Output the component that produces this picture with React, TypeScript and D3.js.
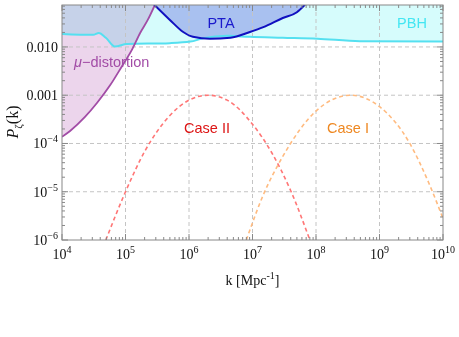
import React from 'react';
import * as d3 from 'd3';

// (k in Mpc^-1, P dimensionless)
const caseIIk = [4.9e4, 1e5, 2e5, 5e5, 1e6, 2e6, 4e6, 1e7, 2e7, 4e7, 8e7];
const caseIIP = [1e-6, 1e-5, 6.8e-5, 3.8e-4, 7.9e-4, 1e-3, 7.9e-4, 2.5e-4, 6.5e-5, 1.05e-5, 1e-6];

const caseIk = [8e6, 1.5e7, 3e7, 1e8, 3.5e8, 1e9, 3e9, 6e9, 1e10];
const caseIP = [1e-6, 9e-6, 5.4e-5, 4.7e-4, 1e-3, 5.8e-4, 1e-4, 1.5e-5, 2.8e-6];

const pbhK = [1e4, 3.1e4, 3.8e4, 4.9e4, 6.8e4, 1.05e5, 5e5, 1.05e6, 1.66e6, 4e6, 9e6, 3e7, 1.05e8, 4.9e8, 1e10];
const pbhP = [0.0186, 0.0178, 0.0195, 0.0155, 0.0102, 0.0115, 0.012, 0.0129, 0.0151, 0.017, 0.0162, 0.0155, 0.0148, 0.0132, 0.0129];

const muK = [1e4, 1.34e4, 2.3e4, 3.55e4, 5.75e4, 8.7e4, 1.26e5, 1.7e5, 2.24e5, 2.9e5];
const muP = [1.38e-4, 1.82e-4, 3.55e-4, 6.9e-4, 1.62e-3, 3.9e-3, 8.7e-3, 0.0195, 0.0363, 0.074];

const ptaK = [2.7e5, 5e5, 8.1e5, 1.15e6, 2.14e6, 4.5e6, 9.1e6, 1.48e7, 3e7, 5e7, 7e7];
const ptaP = [0.08, 0.0363, 0.0204, 0.0162, 0.0148, 0.0155, 0.0204, 0.0257, 0.0398, 0.0525, 0.08];

const xTicks = [1e4, 1e5, 1e6, 1e7, 1e8, 1e9, 1e10];
const xTickExp = ['4', '5', '6', '7', '8', '9', '10'];
const yTicks = [1e-6, 1e-5, 1e-4, 1e-3, 1e-2];
const yTickText = [['10', '−6'], ['10', '−5'], ['10', '−4'], ['0.001', ''], ['0.010', '']];

const W = 459;
const H = 337;
const L = 62, R = 443, T = 5, B = 240;

const App = () => {
  const x = d3.scaleLog().domain([1e4, 1e10]).range([L, R]);
  const y = d3.scaleLog().domain([1e-6, 0.074]).range([B, T]);

  const pts = (ks: number[], ps: number[]) => ks.map((k, i) => [k, ps[i]] as [number, number]);

  const line = d3.line<[number, number]>()
    .x(d => x(d[0]))
    .y(d => y(d[1]))
    .curve(d3.curveMonotoneX);

  const areaTop = d3.area<[number, number]>()
    .x(d => x(d[0]))
    .y0(T - 20)
    .y1(d => y(d[1]))
    .curve(d3.curveMonotoneX);

  const pbh = pts(pbhK, pbhP);
  const mu = pts(muK, muP);
  const pta = pts(ptaK, ptaP);

  // minor ticks on log axes
  const minorX: number[] = [];
  for (let e = 4; e < 10; e++) for (let m = 2; m < 10; m++) minorX.push(m * Math.pow(10, e));
  const minorY: number[] = [];
  for (let e = -6; e < -1; e++) for (let m = 2; m < 10; m++) {
    const v = m * Math.pow(10, e);
    if (v <= 0.074) minorY.push(v);
  }

  const axisCol = '#888';
  const gridCol = '#c4c4c4';

  return (
    <svg width={W} height={H} style={{ position: 'absolute', left: 0, top: 0, background: '#fff' }}>
      <defs>
        <clipPath id="plot">
          <rect x={L} y={T} width={R - L} height={B - T} />
        </clipPath>
      </defs>

      <g clipPath="url(#plot)">
        <path d={areaTop(pbh) || ''} fill="#d6fcfc" style={{ mixBlendMode: 'multiply' }} />
        <path d={areaTop(mu) || ''} fill="#ecd5ec" style={{ mixBlendMode: 'multiply' }} />
        <path d={areaTop(pta) || ''} fill="#a9c1f0" />

        {/* grid */}
        {xTicks.slice(1, -1).map(t => (
          <line key={'gx' + t} x1={x(t)} x2={x(t)} y1={T} y2={B} stroke={gridCol} strokeDasharray="4,3" />
        ))}
        {yTicks.slice(1).map(t => (
          <line key={'gy' + t} x1={L} x2={R} y1={y(t)} y2={y(t)} stroke={gridCol} strokeDasharray="4,3" />
        ))}

        <path d={line(pts(caseIIk, caseIIP)) || ''} fill="none" stroke="#ff7676" strokeWidth={1.6} strokeDasharray="4,3" />
        <path d={line(pts(caseIk, caseIP)) || ''} fill="none" stroke="#ffbb80" strokeWidth={1.6} strokeDasharray="4,3" />
        <path d={line(pbh) || ''} fill="none" stroke="#55e0f0" strokeWidth={2} />
        <path d={line(mu) || ''} fill="none" stroke="#a24ca6" strokeWidth={1.8} />
        <path d={line(pta) || ''} fill="none" stroke="#1010c0" strokeWidth={2} />
      </g>

      {/* frame and ticks */}
      <rect x={L} y={T} width={R - L} height={B - T} fill="none" stroke={axisCol} strokeWidth={1} />
      {xTicks.map(t => (
        <g key={'tx' + t}>
          <line x1={x(t)} x2={x(t)} y1={B} y2={B - 6} stroke={axisCol} />
          <line x1={x(t)} x2={x(t)} y1={T} y2={T + 6} stroke={axisCol} />
        </g>
      ))}
      {minorX.map(t => (
        <g key={'mx' + t}>
          <line x1={x(t)} x2={x(t)} y1={B} y2={B - 3} stroke={axisCol} />
          <line x1={x(t)} x2={x(t)} y1={T} y2={T + 3} stroke={axisCol} />
        </g>
      ))}
      {yTicks.map(t => (
        <g key={'ty' + t}>
          <line x1={L} x2={L + 6} y1={y(t)} y2={y(t)} stroke={axisCol} />
          <line x1={R} x2={R - 6} y1={y(t)} y2={y(t)} stroke={axisCol} />
        </g>
      ))}
      {minorY.map(t => (
        <g key={'my' + t}>
          <line x1={L} x2={L + 3} y1={y(t)} y2={y(t)} stroke={axisCol} />
          <line x1={R} x2={R - 3} y1={y(t)} y2={y(t)} stroke={axisCol} />
        </g>
      ))}

      {/* tick labels */}
      <g fontFamily="'Liberation Serif', 'DejaVu Serif', serif" fontSize={14} fill="#111">
        {xTicks.map((t, i) => (
          <text key={'lx' + t} x={x(t)} y={B + 19} textAnchor="middle">
            10<tspan fontSize={10} dy={-6}>{xTickExp[i]}</tspan>
          </text>
        ))}
        {yTicks.map((t, i) => (
          <text key={'ly' + t} x={L - 4} y={y(t) + 5} textAnchor="end">
            {yTickText[i][0]}
            {yTickText[i][1] && <tspan fontSize={10} dy={-6}>{yTickText[i][1]}</tspan>}
          </text>
        ))}
        <text x={(L + R) / 2} y={B + 45} textAnchor="middle" fontSize={14}>
          k [Mpc<tspan fontSize={10} dy={-6}>-1</tspan><tspan dy={6}>]</tspan>
        </text>
        <text transform="translate(18, 122) rotate(-90)" textAnchor="middle" fontSize={16}>
          <tspan fontStyle="italic">P</tspan>
          <tspan fontSize={11} dy={4}>ζ</tspan>
          <tspan dy={-4}>(k)</tspan>
        </text>
      </g>

      {/* region / curve labels */}
      <g fontFamily="'Liberation Sans', Arial, sans-serif" fontSize={14.5}>
        <text x={221} y={28} fill="#1a1acc" textAnchor="middle">PTA</text>
        <text x={412} y={28} fill="#44e6f2" textAnchor="middle">PBH</text>
        <text x={74} y={67} fill="#a24ca6"><tspan fontStyle="italic">μ</tspan>−distortion</text>
        <text x={207} y={133} fill="#dd1515" textAnchor="middle">Case II</text>
        <text x={348} y={133} fill="#ee8822" textAnchor="middle">Case I</text>
      </g>
    </svg>
  );
};

export default App;
